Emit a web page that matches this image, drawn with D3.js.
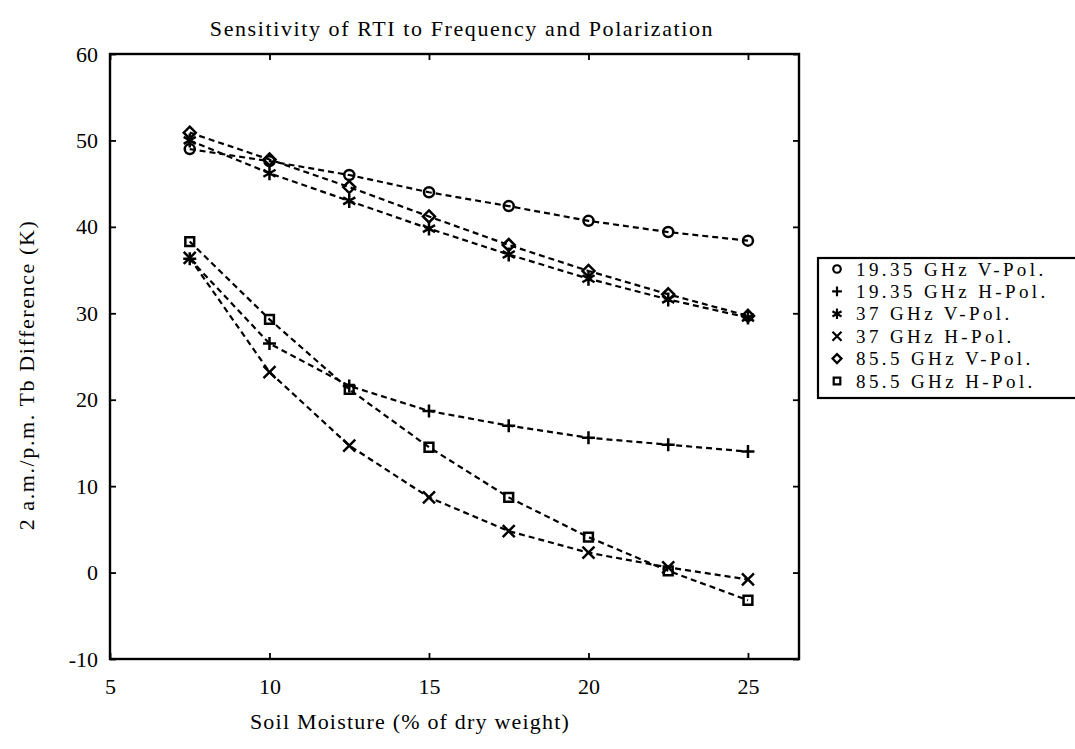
<!DOCTYPE html>
<html>
<head>
<meta charset="utf-8">
<script src="https://cdn.jsdelivr.net/npm/d3@7"></script>
<style>
  body { margin: 0; background: #fff; }
  svg text { font-family: "Liberation Serif", serif; fill: #000; }
</style>
</head>
<body>
<div id="chart"></div>
<script>
// soil moisture (% of dry weight) at each measurement
const MOISTURE = [7.5, 10, 12.5, 15, 17.5, 20, 22.5, 25];

const SERIES_NAMES = [
    "19.35 GHz V-Pol.", "19.35 GHz H-Pol.", "37 GHz V-Pol.",
    "37 GHz H-Pol.", "85.5 GHz V-Pol.", "85.5 GHz H-Pol."
];

// 2 a.m./p.m. Tb difference (K)
const V19 = [49.0, 47.6, 46.0, 44.0, 42.4, 40.7, 39.4, 38.4];
const H19 = [36.3, 26.5, 21.6, 18.7, 17.0, 15.6, 14.8, 14.0];
const V37 = [50.0, 46.2, 43.0, 39.8, 36.8, 34.0, 31.6, 29.5];
const H37 = [36.4, 23.2, 14.7, 8.7, 4.8, 2.3, 0.6, -0.8];
const V85 = [50.9, 47.8, 44.6, 41.2, 37.9, 34.9, 32.2, 29.7];
const H85 = [38.3, 29.3, 21.2, 14.5, 8.7, 4.1, 0.2, -3.2];

const X_TICKS = [5, 10, 15, 20, 25];
const Y_TICKS = [-10, 0, 10, 20, 30, 40, 50, 60];

const SERIES = [V19, H19, V37, H37, V85, H85];
const MARKERS = ["circle", "plus", "star", "cross", "diamond", "square"];

const width = 1075, height = 749;
const plot = { left: 110, right: 799, top: 54, bottom: 659 };

const svg = d3.select("#chart").append("svg")
    .attr("width", width)
    .attr("height", height);

const x = d3.scaleLinear().domain([5, 26.6]).range([plot.left, plot.right]);
const y = d3.scaleLinear().domain([-10, 60]).range([plot.bottom, plot.top]);

// marker shapes, roughly like the old matlab ones
function markerPath(type, s) {
    const p = d3.path();
    if (type === "circle") {
        p.moveTo(s, 0); p.arc(0, 0, s, 0, 2 * Math.PI);
    } else if (type === "plus") {
        p.moveTo(-s, 0); p.lineTo(s, 0); p.moveTo(0, -s); p.lineTo(0, s);
    } else if (type === "cross") {
        p.moveTo(-s, -s); p.lineTo(s, s); p.moveTo(-s, s); p.lineTo(s, -s);
    } else if (type === "star") {
        for (let a = 0; a < 3; a++) {
            const t = Math.PI / 2 + a * Math.PI / 3;
            p.moveTo(-s * Math.cos(t), -s * Math.sin(t));
            p.lineTo(s * Math.cos(t), s * Math.sin(t));
        }
    } else if (type === "diamond") {
        p.moveTo(0, -s); p.lineTo(s, 0); p.lineTo(0, s); p.lineTo(-s, 0); p.closePath();
    } else if (type === "square") {
        const h = s * 0.8;
        p.rect(-h, -h, 2 * h, 2 * h);
    }
    return p.toString();
}
const markerSize = { circle: 5, plus: 6.5, cross: 6, star: 7, diamond: 6, square: 5.5 };

// axes with inward ticks on all four sides
const axisStyle = g => {
    g.select(".domain").remove();
    g.selectAll(".tick line").attr("stroke", "#000").attr("stroke-width", 1.8);
    g.selectAll("text").style("font-size", "22px");
};

svg.append("g")
    .attr("transform", `translate(0,${plot.bottom})`)
    .call(d3.axisBottom(x).tickValues(X_TICKS).tickSizeInner(-6).tickSizeOuter(0).tickPadding(19))
    .call(axisStyle);

svg.append("g")
    .attr("transform", `translate(0,${plot.top})`)
    .call(d3.axisTop(x).tickValues(X_TICKS).tickSizeInner(-6).tickSizeOuter(0).tickFormat(""))
    .call(axisStyle);

svg.append("g")
    .attr("transform", `translate(${plot.left},0)`)
    .call(d3.axisLeft(y).tickValues(Y_TICKS).tickSizeInner(-6).tickSizeOuter(0).tickPadding(12)
        .tickFormat(d => d < 0 ? "-" + Math.abs(d) : d))
    .call(axisStyle);

svg.append("g")
    .attr("transform", `translate(${plot.right},0)`)
    .call(d3.axisRight(y).tickValues(Y_TICKS).tickSizeInner(-6).tickSizeOuter(0).tickFormat(""))
    .call(axisStyle);

svg.append("rect")
    .attr("x", plot.left).attr("y", plot.top)
    .attr("width", plot.right - plot.left).attr("height", plot.bottom - plot.top)
    .attr("fill", "none").attr("stroke", "#000").attr("stroke-width", 2.4);

// dashed lines + markers
const line = d3.line().x((d, i) => x(MOISTURE[i])).y(d => y(d));

SERIES.forEach((vals, k) => {
    svg.append("path")
        .attr("d", line(vals))
        .attr("fill", "none")
        .attr("stroke", "#000")
        .attr("stroke-width", 2.2)
        .attr("stroke-dasharray", "6,4");

    svg.selectAll(null)
        .data(vals)
        .enter().append("path")
        .attr("transform", (d, i) => `translate(${x(MOISTURE[i])},${y(d)})`)
        .attr("d", markerPath(MARKERS[k], markerSize[MARKERS[k]]))
        .attr("fill", "none")
        .attr("stroke", "#000")
        .attr("stroke-width", 2.5);
});

// title + axis labels
svg.append("text")
    .attr("x", 462)
    .attr("y", 36)
    .attr("text-anchor", "middle")
    .style("font-size", "22px")
    .style("letter-spacing", "1.6px")
    .text("Sensitivity of RTI to Frequency and Polarization");

svg.append("text")
    .attr("x", 410)
    .attr("y", 729)
    .attr("text-anchor", "middle")
    .style("font-size", "22px")
    .style("letter-spacing", "1.2px")
    .text("Soil Moisture (% of dry weight)");

svg.append("text")
    .attr("transform", "translate(34,375) rotate(-90)")
    .attr("text-anchor", "middle")
    .style("font-size", "22px")
    .style("letter-spacing", "1.6px")
    .text("2 a.m./p.m. Tb Difference (K)");

// legend
const legend = svg.append("g").attr("transform", "translate(818,258)");
legend.append("rect")
    .attr("x", 0).attr("y", 0)
    .attr("width", 300).attr("height", 140)
    .attr("fill", "#fff").attr("stroke", "#000").attr("stroke-width", 2.2);

const rows = legend.selectAll("g.row")
    .data(SERIES_NAMES)
    .enter().append("g")
    .attr("class", "row")
    .attr("transform", (d, i) => `translate(0,${11 + i * 22.4})`);

rows.append("path")
    .attr("transform", "translate(19,0)")
    .attr("d", (d, i) => markerPath(MARKERS[i], markerSize[MARKERS[i]] * 0.75))
    .attr("fill", "none").attr("stroke", "#000").attr("stroke-width", 2.2);

rows.append("text")
    .attr("x", 38)
    .attr("dy", "0.35em")
    .style("font-size", "19px")
    .style("letter-spacing", "3.4px")
    .text(d => d);
</script>
</body>
</html>
